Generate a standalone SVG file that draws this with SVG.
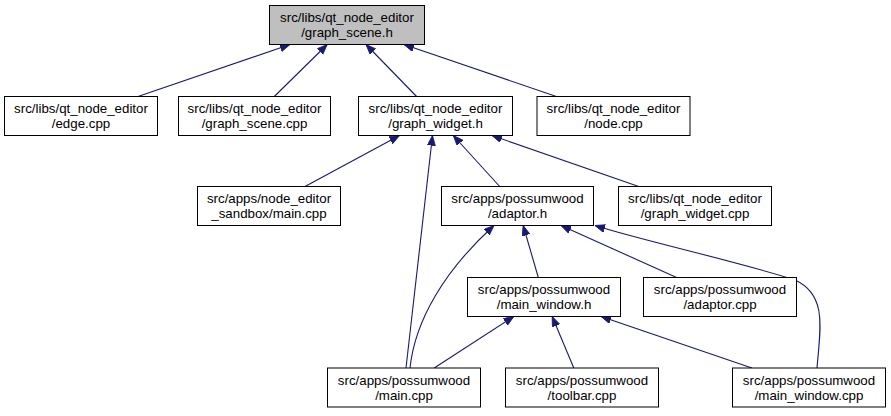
<svg xmlns="http://www.w3.org/2000/svg" width="891" height="416" viewBox="0 0 891 416">
<style>
.n rect{fill:#ffffff;stroke:#000000;stroke-width:1}
.n.root rect{fill:#bfbfbf}
.n text{font-family:"Liberation Sans",Arial,Helvetica,sans-serif;font-size:13.3px;fill:#000000;text-anchor:middle}
#edges path{fill:none;stroke:#191970;stroke-width:1.1;marker-end:url(#ah)}
</style>
<defs>
<marker id="ah" markerUnits="userSpaceOnUse" markerWidth="11" markerHeight="9" refX="10" refY="4" orient="auto">
<path d="M0,0 L10,4 L0,8 z" fill="#191970" stroke="#191970" stroke-width="0.8"/>
</marker>
</defs>
<rect width="891" height="416" fill="#ffffff"/>
<g id="edges">
<path d="M138,96.5 L290,44.5"/>
<path d="M274.3,96.5 L327.2,44.5"/>
<path d="M416.6,96.5 L366,44.5"/>
<path d="M556.4,96.5 L404,44.5"/>
<path d="M305,186.5 L399.5,135.5"/>
<path d="M406,368 L432.5,135.5"/>
<path d="M499.7,186.5 L453.3,135.5"/>
<path d="M638.7,186.5 L492,135.5"/>
<path d="M410,368 C415,320 445,270 494,225.5"/>
<path d="M538.3,277.5 L523.2,225.5"/>
<path d="M676.6,277.5 L561,225.5"/>
<path d="M817,368 C820,330 828,295 795,280 C740,262 640,240 595,225.5"/>
<path d="M434.2,368 L513.8,316.5"/>
<path d="M573.8,368 L552.2,316.5"/>
<path d="M751.9,368 L601.1,316.5"/>
</g>
<g id="graph_scene_h" class="n root"><rect x="269.5" y="5.5" width="155" height="39"/><text x="347" y="22">src/libs/qt_node_editor</text><text x="347" y="37">/graph_scene.h</text></g>
<g id="edge_cpp" class="n"><rect x="4.5" y="96.5" width="153" height="39"/><text x="81" y="113">src/libs/qt_node_editor</text><text x="81" y="128">/edge.cpp</text></g>
<g id="graph_scene_cpp" class="n"><rect x="178.5" y="96.5" width="152" height="39"/><text x="254.5" y="113">src/libs/qt_node_editor</text><text x="254.5" y="128">/graph_scene.cpp</text></g>
<g id="graph_widget_h" class="n"><rect x="358.5" y="96.5" width="154" height="39"/><text x="435.5" y="113">src/libs/qt_node_editor</text><text x="435.5" y="128">/graph_widget.h</text></g>
<g id="node_cpp" class="n"><rect x="537" y="96.5" width="153" height="39"/><text x="613.5" y="113">src/libs/qt_node_editor</text><text x="613.5" y="128">/node.cpp</text></g>
<g id="sandbox_main_cpp" class="n"><rect x="197.5" y="186.5" width="143" height="39"/><text x="269" y="203">src/apps/node_editor</text><text x="269" y="218">_sandbox/main.cpp</text></g>
<g id="adaptor_h" class="n"><rect x="441.5" y="186.5" width="152" height="39"/><text x="517.5" y="203">src/apps/possumwood</text><text x="517.5" y="218">/adaptor.h</text></g>
<g id="graph_widget_cpp" class="n"><rect x="618.5" y="186.5" width="153" height="39"/><text x="695" y="203">src/libs/qt_node_editor</text><text x="695" y="218">/graph_widget.cpp</text></g>
<g id="main_window_h" class="n"><rect x="467.5" y="277.5" width="153" height="39"/><text x="544" y="294">src/apps/possumwood</text><text x="544" y="309">/main_window.h</text></g>
<g id="adaptor_cpp" class="n"><rect x="643.5" y="277.5" width="153" height="39"/><text x="720" y="294">src/apps/possumwood</text><text x="720" y="309">/adaptor.cpp</text></g>
<g id="main_cpp" class="n"><rect x="327.5" y="368" width="153" height="39"/><text x="404" y="384.5">src/apps/possumwood</text><text x="404" y="399.5">/main.cpp</text></g>
<g id="toolbar_cpp" class="n"><rect x="505.5" y="368" width="153" height="39"/><text x="582" y="384.5">src/apps/possumwood</text><text x="582" y="399.5">/toolbar.cpp</text></g>
<g id="main_window_cpp" class="n"><rect x="732.5" y="368" width="153" height="39"/><text x="809" y="384.5">src/apps/possumwood</text><text x="809" y="399.5">/main_window.cpp</text></g>
</svg>
